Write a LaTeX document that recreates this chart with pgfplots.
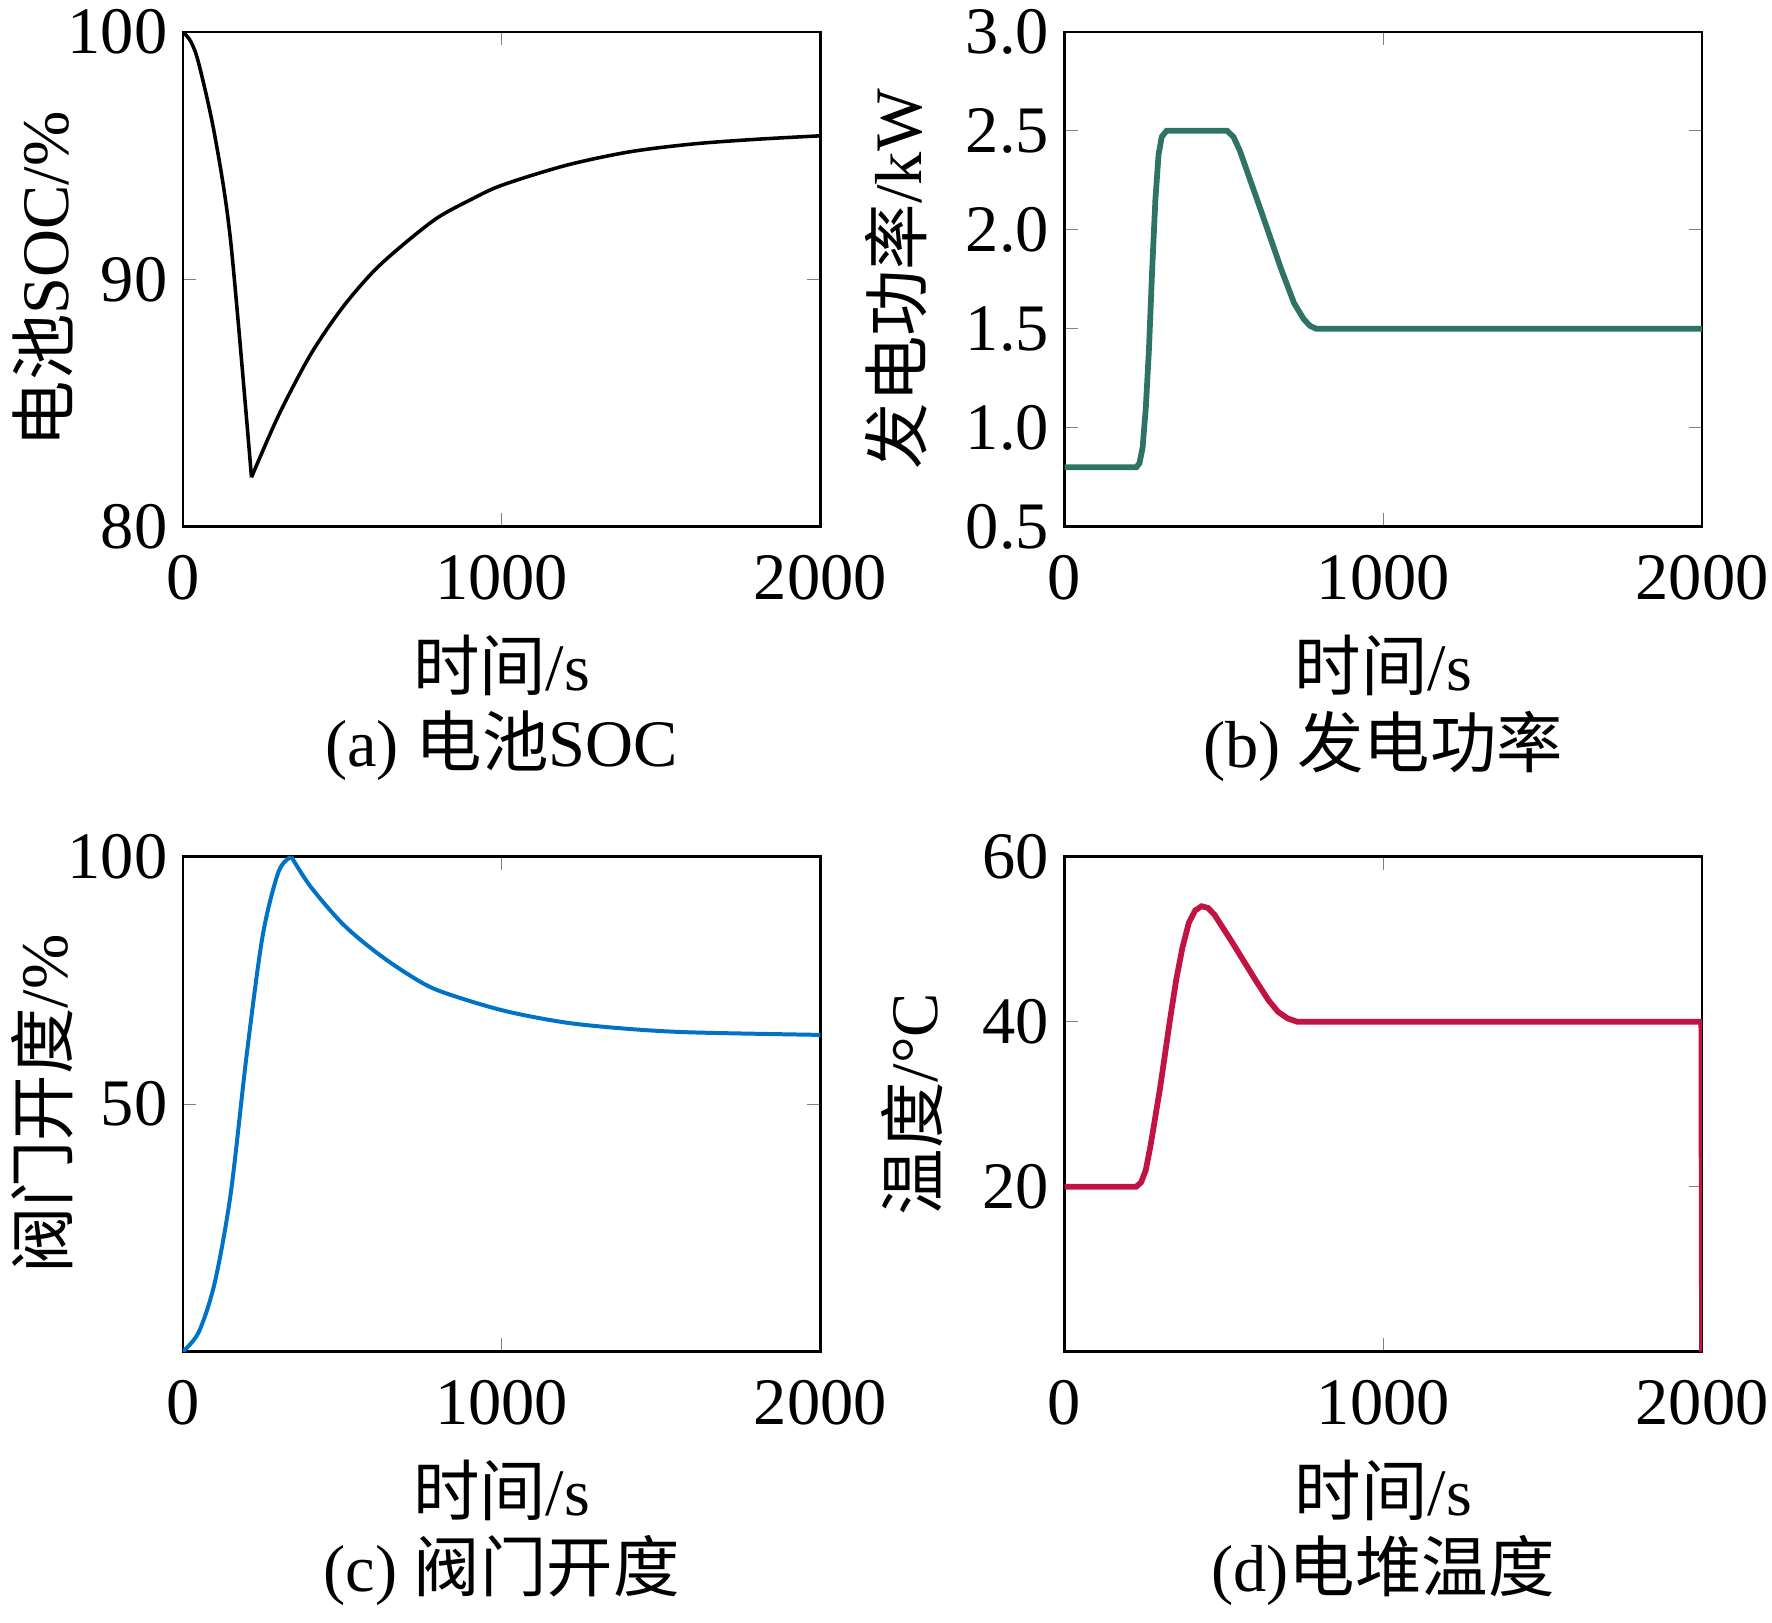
\documentclass[border=0pt]{standalone}
\usepackage{fontspec}
\setmainfont{Liberation Serif}
\newfontfamily\cjk{Noto Sans CJK SC}
\usepackage{pgfplots}
\pgfplotsset{compat=1.18}
\definecolor{cA}{rgb}{0,0,0}
\definecolor{cB}{rgb}{0.18,0.45,0.40}
\definecolor{cC}{rgb}{0.0,0.45,0.78}
\definecolor{cD}{rgb}{0.76,0.08,0.26}
\pgfplotsset{every axis/.style={scale only axis,width=143.9pt,height=111.7pt,anchor=south west,
  xmin=0,xmax=2000,xtick={0,1000,2000},tick align=inside,tick pos=both,
  major tick length=3pt,
  /pgf/number format/assume math mode=true,/pgf/number format/1000 sep={},
  tick label style={font=\fontsize{15}{16}\selectfont},
  xticklabel style={yshift=-3pt},
  label style={font=\fontsize{15}{16}\selectfont},
  xlabel={{\cjk 时间}/s},xlabel style={yshift=-1pt},
  axis line style={line width=0.6pt}}}
\begin{document}
\begin{tikzpicture}
\useasboundingbox (0,0) rectangle (400pt,-366.3pt);
\begin{axis}[at={(41.3pt,-118.9pt)},ymin=80,ymax=100,ytick={80,90,100},ylabel={{\cjk 电池}SOC/\%},ylabel style={yshift=-8pt}]
\addplot[cA,line width=0.8pt,smooth] coordinates {(0,100)(25,99.6)(50,98.7)(100,95.8)(150,91.5)(215,82)};
\addplot[cA,line width=0.8pt,smooth] coordinates {(215,82)(300,84.5)(400,86.95)(500,88.85)(600,90.35)(700,91.5)(800,92.5)(900,93.2)(1000,93.8)(1200,94.6)(1400,95.15)(1600,95.47)(1800,95.66)(2000,95.8)};
\end{axis}
\begin{axis}[at={(240.3pt,-118.9pt)},ymin=0.5,ymax=3,ytick={0.5,1,1.5,2,2.5,3},
  yticklabel style={/pgf/number format/fixed,/pgf/number format/fixed zerofill,/pgf/number format/precision=1},
  ylabel={{\cjk 发电功率}/kW},ylabel style={yshift=2pt}]
\addplot[cB,line width=1.3pt] coordinates {(0,0.8)(225,0.8)(235,0.82)(245,0.9)(255,1.1)(265,1.4)(275,1.8)(285,2.15)(295,2.38)(305,2.47)(320,2.5)(510,2.5)(530,2.47)(550,2.4)(620,2.08)(680,1.8)(720,1.63)(750,1.55)(770,1.515)(790,1.5)(2000,1.5)};
\end{axis}
\begin{axis}[at={(41.3pt,-305.1pt)},ymin=0,ymax=100,ytick={50,100},ylabel={{\cjk 阀门开度}/\%},ylabel style={yshift=-8pt}]
\addplot[cC,line width=0.9pt,smooth] coordinates {(0,0)(50,4)(100,14)(150,32)(200,60)(250,84)(300,97)(340,100)};
\addplot[cC,line width=0.9pt,smooth] coordinates {(340,100)(400,94)(500,86.5)(600,81)(700,76.5)(800,73)(1000,69)(1200,66.5)(1400,65.2)(1600,64.5)(2000,64)};
\end{axis}
\begin{axis}[at={(240.3pt,-305.1pt)},ymin=0,ymax=60,ytick={20,40,60},ylabel={{\cjk 温度}/\textdegree C},ylabel style={yshift=2pt}]
\addplot[cD,line width=1.3pt] coordinates {(0,20)(225,20)(240,20.5)(255,22)(270,25)(300,32)(330,40)(350,45)(370,49)(390,52)(410,53.5)(430,54)(450,53.8)(470,53)(520,50)(600,45)(640,42.6)(670,41.2)(700,40.4)(730,40)(1998,40)(2000,0)};
\end{axis}
\tikzset{subcap/.style={font=\fontsize{15}{16}\selectfont,anchor=center}}
\node[subcap] at (113.2pt,-168.4pt) {(a) {\cjk 电池}SOC};
\node[subcap] at (312.2pt,-168.4pt) {(b) {\cjk 发电功率}};
\node[subcap] at (113.2pt,-354.6pt) {(c) {\cjk 阀门开度}};
\node[subcap] at (312.2pt,-354.6pt) {(d){\cjk 电堆温度}};
\end{tikzpicture}
\end{document}
